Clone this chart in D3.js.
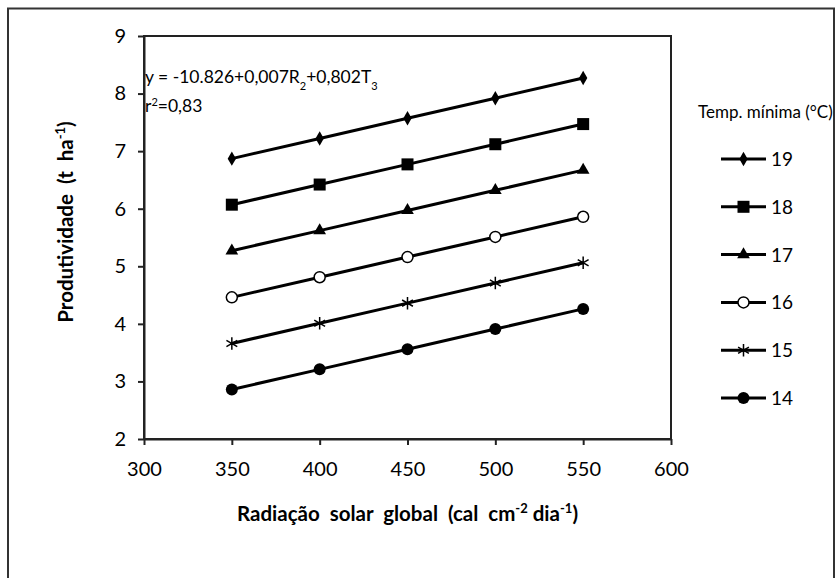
<!DOCTYPE html>
<html>
<head>
<meta charset="utf-8">
<script src="https://cdn.jsdelivr.net/npm/d3@7"></script>
<style>
  body { margin: 0; background: #fff; }
  svg { display: block; font-family: Lato, "Open Sans", sans-serif; }
</style>
</head>
<body>
<svg id="chart" width="836" height="578"></svg>
<script>
'use strict'

// radiação (x) e produtividade por temperatura mínima
const radiacao = [350, 400, 450, 500, 550]
const temps = [19, 18, 17, 16, 15, 14]
const prod19 = [6.87, 7.22, 7.57, 7.92, 8.27]
const prod18 = [6.07, 6.42, 6.77, 7.12, 7.47]
const prod17 = [5.27, 5.62, 5.97, 6.32, 6.67]
const prod16 = [4.46, 4.81, 5.16, 5.51, 5.86]
const prod15 = [3.66, 4.01, 4.36, 4.71, 5.06]
const prod14 = [2.86, 3.21, 3.56, 3.91, 4.26]
const xTicks = [300, 350, 400, 450, 500, 550, 600]
const yTicks = [2, 3, 4, 5, 6, 7, 8, 9]

const seriesVals = [prod19, prod18, prod17, prod16, prod15, prod14]
const markers = ['diamond', 'square', 'triangle', 'ocircle', 'star', 'circle']
const sp = '\u00a0'

const svg = d3.select('#chart')

// moldura externa
svg.append('rect')
  .attr('x', 8).attr('y', 8.5)
  .attr('width', 826).attr('height', 600)
  .attr('fill', 'none').attr('stroke', '#333').attr('stroke-width', 2)

const pLeft = 144, pRight = 671, pTop = 36, pBottom = 439

let scaleX = d3.scaleLinear().domain([300, 600]).range([pLeft, pRight])
let scaleY = d3.scaleLinear().domain([2, 9]).range([pBottom, pTop])

// caixa da área do gráfico
svg.append('rect')
  .attr('x', pLeft).attr('y', pTop)
  .attr('width', pRight - pLeft).attr('height', pBottom - pTop)
  .attr('fill', 'none').attr('stroke', '#222').attr('stroke-width', 2)

let axisX = d3.axisBottom(scaleX).tickValues(xTicks).tickFormat(d3.format('d'))
  .tickSize(6).tickSizeOuter(0).tickPadding(17)
let axisY = d3.axisLeft(scaleY).tickValues(yTicks).tickFormat(d3.format('d'))
  .tickSize(6).tickSizeOuter(0).tickPadding(12)

const gx = svg.append('g').attr('transform', `translate(0, ${pBottom})`).call(axisX)
const gy = svg.append('g').attr('transform', `translate(${pLeft}, 0)`).call(axisY)
for (const g of [gx, gy]) {
  g.select('.domain').attr('stroke', '#222').attr('stroke-width', 2)
  g.selectAll('.tick line').attr('stroke', '#222').attr('stroke-width', 2)
  g.selectAll('.tick text').attr('fill', '#000').style('font-size', '20px')
    .style('font-family', 'Lato, sans-serif')
}

// títulos dos eixos
const xt = svg.append('text')
  .attr('x', (pLeft + pRight) / 2).attr('y', 521)
  .attr('text-anchor', 'middle')
  .style('font-size', '20.5px').style('font-weight', 'bold')
xt.append('tspan').text(`Radiação${sp} solar${sp} global${sp} (cal${sp} cm`)
xt.append('tspan').attr('baseline-shift', 'super').style('font-size', '13px').text('-2')
xt.append('tspan').text(' dia')
xt.append('tspan').attr('baseline-shift', 'super').style('font-size', '13px').text('-1')
xt.append('tspan').text(')')

const yt = svg.append('text')
  .attr('transform', 'translate(73, 222) rotate(-90)')
  .attr('text-anchor', 'middle')
  .style('font-size', '20.5px').style('font-weight', 'bold')
yt.append('tspan').text(`Produtividade${sp} (t${sp} ha`)
yt.append('tspan').attr('baseline-shift', 'super').style('font-size', '13px').text('-1')
yt.append('tspan').text(')')

// equação
const eq = svg.append('text').attr('x', 145).attr('y', 83).style('font-size', '17.5px')
eq.append('tspan').text('y = -10.826+0,007R')
eq.append('tspan').attr('baseline-shift', 'sub').style('font-size', '11px').text('2')
eq.append('tspan').text('+0,802T')
eq.append('tspan').attr('baseline-shift', 'sub').style('font-size', '11px').text('3')
const r2 = svg.append('text').attr('x', 145).attr('y', 112).style('font-size', '17.5px')
r2.append('tspan').text('r')
r2.append('tspan').attr('baseline-shift', 'super').style('font-size', '11px').text('2')
r2.append('tspan').text('=0,83')

function drawMarker(g, kind, x, y) {
  if (kind === 'diamond') {
    g.append('path').attr('d', d3.symbol(d3.symbolDiamond, 60)()).attr('transform', `translate(${x},${y})`).attr('fill', '#000')
  } else if (kind === 'square') {
    g.append('rect').attr('x', x - 6).attr('y', y - 6).attr('width', 12).attr('height', 12).attr('fill', '#000')
  } else if (kind === 'triangle') {
    g.append('path').attr('d', d3.symbol(d3.symbolTriangle, 70)()).attr('transform', `translate(${x},${y})`).attr('fill', '#000')
  } else if (kind === 'ocircle') {
    g.append('circle').attr('cx', x).attr('cy', y).attr('r', 5.5).attr('fill', '#fff').attr('stroke', '#000').attr('stroke-width', 1.5)
  } else if (kind === 'star') {
    g.append('path').attr('d', d3.symbol(d3.symbolAsterisk, 110)()).attr('transform', `translate(${x},${y})`).attr('stroke', '#000').attr('stroke-width', 1.5)
  } else {
    g.append('circle').attr('cx', x).attr('cy', y).attr('r', 6).attr('fill', '#000')
  }
}

let lineF = d3.line()
  .x((d, i) => scaleX(radiacao[i]))
  .y(d => scaleY(d))

seriesVals.forEach((vals, s) => {
  const g = svg.append('g')
  g.append('path').datum(vals).attr('d', lineF)
    .attr('fill', 'none').attr('stroke', '#000').attr('stroke-width', 3)
  vals.forEach((v, i) => drawMarker(g, markers[s], scaleX(radiacao[i]), scaleY(v)))
})

// legenda
svg.append('text').attr('x', 698).attr('y', 118).style('font-size', '17px').text('Temp. mínima (°C)')
const legY = d3.scalePoint().domain(temps).range([159, 398])
temps.forEach((t, s) => {
  const g = svg.append('g')
  const y = legY(t)
  g.append('line').attr('x1', 721).attr('x2', 766).attr('y1', y).attr('y2', y)
    .attr('stroke', '#000').attr('stroke-width', 3)
  drawMarker(g, markers[s], 743.5, y)
  g.append('text').attr('x', 771).attr('y', y + 7).style('font-size', '19px').text(t)
})
</script>
</body>
</html>
